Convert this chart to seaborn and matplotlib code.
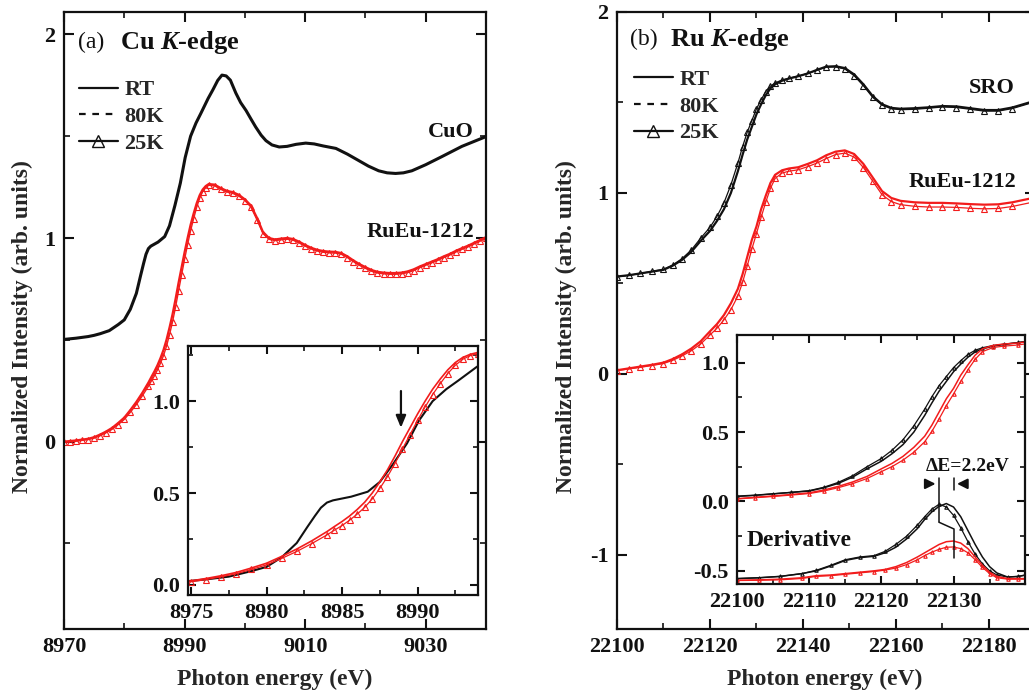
import numpy as np
import matplotlib
matplotlib.use("Agg")
import matplotlib.pyplot as plt
import seaborn as sns
from matplotlib.lines import Line2D
from matplotlib.ticker import MultipleLocator, FormatStrFormatter

# ---------------- data ----------------
# Panel (a): Cu K-edge
cuo_energy = [8970, 8972, 8974, 8975, 8976, 8977.5, 8979, 8980, 8981, 8982, 8982.7, 8983.2,
              8983.6, 8984.0, 8984.4, 8985.6, 8986.7, 8987.5, 8988.4, 8989.3, 8990.1, 8991.0,
              8991.9, 8992.7, 8993.9, 8994.7, 8995.5, 8996.2, 8996.9, 8997.6, 8998.5, 8999.3,
              9000.2, 9001.0, 9001.8, 9002.7, 9003.5, 9004.5, 9005.7, 9007.0, 9008.5, 9010.1,
              9011.5, 9013.0, 9015.1, 9017.0, 9018.9, 9020.5, 9022.2, 9023.6, 9025.0, 9026.3,
              9027.7, 9030.0, 9032.7, 9036.0, 9040.0]
cuo_rt = [0.002, 0.008, 0.016, 0.022, 0.030, 0.045, 0.075, 0.098, 0.150, 0.228, 0.315, 0.375,
          0.420, 0.448, 0.460, 0.480, 0.507, 0.560, 0.660, 0.770, 0.895, 1.000, 1.065, 1.112,
          1.185, 1.228, 1.274, 1.300, 1.296, 1.275, 1.212, 1.165, 1.126, 1.085, 1.045, 1.005,
          0.978, 0.957, 0.947, 0.950, 0.960, 0.966, 0.962, 0.952, 0.940, 0.912, 0.880, 0.853,
          0.830, 0.820, 0.817, 0.820, 0.830, 0.860, 0.900, 0.950, 0.998]

rueu_cu_energy = [8970, 8971, 8972, 8973, 8974, 8975, 8976, 8977, 8978, 8979, 8980, 8981, 8982,
                  8983, 8984,
                  8984.5, 8985, 8985.5, 8986, 8986.5, 8987, 8987.5, 8988, 8988.5, 8989, 8989.5,
                  8990, 8990.5, 8991, 8991.5, 8992, 8992.5, 8993, 8993.5, 8994,
                  8995, 8996, 8997, 8998, 8999, 9000, 9001, 9002, 9003, 9004, 9005, 9006, 9007,
                  9008, 9009, 9010, 9011, 9012, 9013, 9014, 9015, 9016, 9017, 9018, 9019, 9020,
                  9021, 9022, 9023, 9024, 9025, 9026, 9027, 9028, 9029, 9030, 9031, 9032, 9033,
                  9034, 9035, 9036, 9037, 9038, 9039, 9040]
rueu_cu_rt = [0.000, 0.003, 0.006, 0.010, 0.014, 0.022, 0.035, 0.050, 0.068, 0.092, 0.118, 0.155,
              0.195, 0.240, 0.290,
              0.318, 0.345, 0.375, 0.410, 0.450, 0.500, 0.560, 0.625, 0.700, 0.780, 0.855, 0.930,
              1.000, 1.065, 1.120, 1.170, 1.210, 1.238, 1.255, 1.265,
              1.262, 1.245, 1.232, 1.225, 1.212, 1.190, 1.160, 1.100, 1.030, 1.000, 0.993, 0.997,
              1.000, 0.995, 0.982, 0.966, 0.952, 0.942, 0.936, 0.933, 0.932, 0.926, 0.910, 0.890,
              0.872, 0.857, 0.843, 0.834, 0.830, 0.828, 0.828, 0.830, 0.836, 0.846, 0.860, 0.872,
              0.884, 0.896, 0.910, 0.922, 0.937, 0.950, 0.962, 0.976, 0.990, 1.004]
rueu_cu_25k = [-0.004, -0.001, 0.002, 0.006, 0.010, 0.017, 0.029, 0.044, 0.061, 0.084, 0.109,
               0.144, 0.182, 0.225, 0.272,
               0.298, 0.323, 0.352, 0.385, 0.422, 0.468, 0.525, 0.588, 0.660, 0.740, 0.818, 0.895,
               0.968, 1.036, 1.095, 1.150, 1.195, 1.228, 1.248, 1.259,
               1.256, 1.239, 1.226, 1.219, 1.206, 1.184, 1.152, 1.090, 1.022, 0.994, 0.987, 0.991,
               0.994, 0.989, 0.976, 0.960, 0.946, 0.936, 0.930, 0.927, 0.926, 0.920, 0.904, 0.884,
               0.866, 0.851, 0.837, 0.828, 0.824, 0.822, 0.822, 0.824, 0.830, 0.840, 0.854, 0.866,
               0.878, 0.890, 0.904, 0.916, 0.931, 0.944, 0.956, 0.970, 0.984, 0.998]

# Panel (b): Ru K-edge
ru_energy = [22100, 22102.5, 22105, 22107.5, 22110, 22112, 22114, 22116, 22118, 22120, 22121.5,
             22123, 22124.5, 22126, 22127, 22128, 22129, 22130, 22131, 22132, 22133, 22134,
             22135.5, 22137, 22139, 22141, 22143, 22145, 22147, 22149, 22151, 22153, 22155,
             22157, 22159, 22161, 22164, 22167, 22170, 22173, 22176, 22179, 22182, 22185, 22190]
sro_rt = [0.038, 0.045, 0.055, 0.065, 0.075, 0.098, 0.130, 0.175, 0.235, 0.290, 0.345, 0.410,
          0.500, 0.620, 0.710, 0.795, 0.865, 0.935, 0.990, 1.040, 1.078, 1.100, 1.120, 1.132,
          1.145, 1.160, 1.180, 1.198, 1.200, 1.190, 1.155, 1.100, 1.035, 0.990, 0.970, 0.965,
          0.968, 0.973, 0.980, 0.978, 0.968, 0.958, 0.958, 0.972, 1.010]
sro_25k = [0.036, 0.044, 0.055, 0.066, 0.078, 0.102, 0.137, 0.185, 0.250, 0.310, 0.370, 0.445,
           0.545, 0.665, 0.755, 0.835, 0.900, 0.965, 1.015, 1.060, 1.090, 1.108, 1.124, 1.134,
           1.146, 1.160, 1.178, 1.195, 1.196, 1.185, 1.148, 1.092, 1.028, 0.985, 0.965, 0.960,
           0.962, 0.968, 0.975, 0.972, 0.962, 0.952, 0.952, 0.966, 1.004]
rueu_ru_rt = [0.020, 0.030, 0.040, 0.050, 0.062, 0.082, 0.108, 0.140, 0.180, 0.235, 0.275, 0.325,
              0.390, 0.470, 0.550, 0.645, 0.740, 0.815, 0.910, 0.985, 1.055, 1.100, 1.125, 1.135,
              1.142, 1.160, 1.180, 1.208, 1.228, 1.235, 1.215, 1.160, 1.085, 1.010, 0.972, 0.956,
              0.948, 0.945, 0.945, 0.942, 0.938, 0.935, 0.937, 0.948, 0.975]
rueu_ru_25k = [0.018, 0.027, 0.036, 0.046, 0.057, 0.075, 0.099, 0.128, 0.165, 0.215, 0.252, 0.298,
               0.355, 0.430, 0.505, 0.595, 0.690, 0.775, 0.865, 0.950, 1.025, 1.080, 1.110, 1.120,
               1.128, 1.145, 1.165, 1.190, 1.212, 1.220, 1.198, 1.140, 1.065, 0.990, 0.952, 0.935,
               0.926, 0.922, 0.922, 0.920, 0.915, 0.912, 0.914, 0.925, 0.952]

# Panel (b) inset: derivative curves
deriv_energy = [22100, 22103, 22106, 22109, 22111, 22113, 22115, 22117, 22119, 22120.5, 22122,
                22123.5, 22125, 22126, 22127, 22128, 22129, 22130, 22131, 22132, 22133, 22134,
                22135, 22136, 22137.5, 22139, 22140]
deriv_sro_25k = [-0.556, -0.550, -0.540, -0.520, -0.496, -0.460, -0.420, -0.400, -0.390, -0.360,
                 -0.310, -0.250, -0.170, -0.110, -0.055, -0.020, -0.040, -0.100, -0.190, -0.290,
                 -0.380, -0.450, -0.500, -0.530, -0.545, -0.540, -0.530]
deriv_sro_rt = [-0.556, -0.550, -0.540, -0.520, -0.500, -0.465, -0.425, -0.405, -0.395, -0.370,
                -0.330, -0.270, -0.195, -0.130, -0.075, -0.035, -0.015, -0.040, -0.110, -0.210,
                -0.310, -0.400, -0.470, -0.515, -0.545, -0.540, -0.530]
deriv_rueu_rt = [-0.568, -0.565, -0.560, -0.550, -0.535, -0.530, -0.520, -0.510, -0.500, -0.490,
                 -0.470, -0.440, -0.400, -0.370, -0.340, -0.310, -0.290, -0.285, -0.300, -0.340,
                 -0.400, -0.460, -0.510, -0.540, -0.556, -0.556, -0.556]
deriv_rueu_25k = [-0.570, -0.568, -0.565, -0.555, -0.540, -0.535, -0.525, -0.515, -0.505, -0.495,
                  -0.480, -0.455, -0.420, -0.390, -0.365, -0.345, -0.330, -0.328, -0.340, -0.370,
                  -0.420, -0.475, -0.520, -0.550, -0.560, -0.560, -0.560]

legend_labels = ["RT", "80K", "25K"]
OFFSET = 0.5  # vertical offset of reference compounds in main panels

RED = "#f21c1c"
BLACK = "#111111"

# ---------------- style ----------------
sns.set_theme(style="ticks")
plt.rcParams.update({
    "font.family": ["Liberation Serif", "DejaVu Serif"],
    "font.weight": "bold",
    "mathtext.fontset": "custom",
    "mathtext.rm": "Liberation Serif",
    "mathtext.bf": "Liberation Serif:bold",
    "mathtext.it": "Liberation Serif:italic",
    "mathtext.bfit": "Liberation Serif:italic:bold",
    "axes.unicode_minus": False,
    "axes.linewidth": 1.6,
    "axes.edgecolor": BLACK,
    "xtick.direction": "in",
    "ytick.direction": "in",
    "xtick.top": True,
    "ytick.right": True,
    "xtick.color": BLACK,
    "ytick.color": BLACK,
})

fig = plt.figure(figsize=(10.29, 6.96), dpi=100)
axA = fig.add_axes([0.0622, 0.0963, 0.4101, 0.8865])
axB = fig.add_axes([0.5996, 0.0963, 0.4067, 0.8865])
insA = fig.add_axes([0.1827, 0.1451, 0.2818, 0.3578])
insB = fig.add_axes([0.7162, 0.1609, 0.2799, 0.3578])


def draw(ax, x, y, color, lw, ls="-", marker=None, ms=4.5, mew=0.8):
    kw = dict(x=np.asarray(x, float), y=np.asarray(y, float), ax=ax, color=color,
              linewidth=lw, linestyle=ls, legend=False, sort=False, estimator=None)
    if marker is not None:
        kw.update(marker=marker, markersize=ms, markerfacecolor="none",
                  markeredgecolor=color, markeredgewidth=mew)
    sns.lineplot(**kw)


def style_axes(ax, major_x, minor_x, major_y, minor_y, lsize, fmt=None, big=True, xoff=0):
    ax.xaxis.set_major_locator(MultipleLocator(major_x, offset=xoff))
    ax.xaxis.set_minor_locator(MultipleLocator(minor_x))
    ax.yaxis.set_major_locator(MultipleLocator(major_y))
    ax.yaxis.set_minor_locator(MultipleLocator(minor_y))
    if fmt:
        ax.yaxis.set_major_formatter(FormatStrFormatter(fmt))
    L = 7 if big else 6
    ax.tick_params(which="major", length=L, width=1.5, labelsize=lsize, pad=6,
                   top=True, right=True)
    ax.tick_params(which="minor", length=L * 0.6, width=1.2, top=True, right=True)
    for lab in ax.get_xticklabels() + ax.get_yticklabels():
        lab.set_fontweight("bold")
    ax.set_xlabel("")
    ax.set_ylabel("")
    for s in ax.spines.values():
        s.set_linewidth(1.6)


# ---------------- panel (a) ----------------
draw(axA, cuo_energy, np.asarray(cuo_rt) + OFFSET, BLACK, 2.2)
draw(axA, rueu_cu_energy, rueu_cu_rt, RED, 1.6)
draw(axA, rueu_cu_energy, rueu_cu_25k, RED, 1.0, marker="^", ms=5)
axA.set_xlim(8970, 9040)
axA.set_ylim(-0.92, 2.11)
style_axes(axA, 20, 10, 1, 0.5, 16, xoff=10)
axA.set_xlabel("Photon energy (eV)", fontsize=17, fontweight="bold")
axA.set_ylabel("Normalized Intensity (arb. units)", fontsize=17, fontweight="bold")
axA.xaxis.set_label_coords(0.5, -0.064)
axA.yaxis.set_label_coords(-0.074, 0.49)
axA.text(0.033, 0.951, "(a)", transform=axA.transAxes, fontsize=17, fontweight="normal",
         va="center", ha="left", color=BLACK)
axA.text(0.133, 0.951, r"Cu $\mathbfit{K}$-edge", transform=axA.transAxes, fontsize=19,
         fontweight="bold", va="center", ha="left", color=BLACK)
axA.text(9038.0, 1.52, "CuO", fontsize=16, fontweight="bold", ha="right", va="center", color=BLACK)
axA.text(9038.0, 1.03, "RuEu-1212", fontsize=16, fontweight="bold", ha="right", va="center",
         color=BLACK)

handles = [Line2D([], [], color=BLACK, lw=1.6, ls="-"),
           Line2D([], [], color=BLACK, lw=1.6, ls=(0, (3, 3))),
           Line2D([], [], color=BLACK, lw=1.6, ls="-", marker="^", markerfacecolor="none",
                  markersize=8, markeredgewidth=1.0)]
for ax, anchor in ((axA, (0.035, 0.890)), (axB, (0.040, 0.907))):
    ax.legend(handles, legend_labels, loc="upper left", bbox_to_anchor=anchor,
              frameon=False, handlelength=1.75, handletextpad=0.3,
              labelspacing=0.28, borderpad=0, borderaxespad=0, numpoints=1,
              prop={"weight": "bold", "size": 16})

# inset (a)
insA.set_facecolor("white")
draw(insA, cuo_energy, cuo_rt, BLACK, 1.5)
draw(insA, rueu_cu_energy, rueu_cu_rt, RED, 1.2)
draw(insA, rueu_cu_energy, rueu_cu_25k, RED, 0.9, marker="^", ms=4)
insA.set_xlim(8974.8, 8994)
insA.set_ylim(-0.055, 1.30)
style_axes(insA, 5, 2.5, 0.5, 0.25, 16, fmt="%.1f", big=False)
insA.annotate("", xy=(8988.9, 0.84), xytext=(8988.9, 1.07),
              arrowprops=dict(arrowstyle="-|>,head_length=0.6,head_width=0.25",
                              color=BLACK, lw=1.6))

# ---------------- panel (b) ----------------
draw(axB, ru_energy, np.asarray(sro_rt) + OFFSET, BLACK, 1.6)
draw(axB, ru_energy, np.asarray(sro_25k) + OFFSET, BLACK, 0.9, marker="^", ms=4.5)
draw(axB, ru_energy, rueu_ru_rt, RED, 1.6)
draw(axB, ru_energy, rueu_ru_25k, RED, 0.9, marker="^", ms=4.5)
axB.set_xlim(22100, 22190)
axB.set_ylim(-1.41, 2.0)
style_axes(axB, 20, 10, 1, 0.5, 16)
axB.set_xlabel("Photon energy (eV)", fontsize=17, fontweight="bold")
axB.set_ylabel("Normalized Intensity (arb. units)", fontsize=17, fontweight="bold")
axB.xaxis.set_label_coords(0.497, -0.064)
axB.yaxis.set_label_coords(-0.096, 0.49)
axB.text(0.031, 0.956, "(b)", transform=axB.transAxes, fontsize=17, fontweight="normal",
         va="center", ha="left", color=BLACK)
axB.text(0.127, 0.956, r"Ru $\mathbfit{K}$-edge", transform=axB.transAxes, fontsize=19,
         fontweight="bold", va="center", ha="left", color=BLACK)
axB.text(22185.6, 1.58, "SRO", fontsize=16, fontweight="bold", ha="right", va="center", color=BLACK)
axB.text(22185.8, 1.06, "RuEu-1212", fontsize=16, fontweight="bold", ha="right", va="center",
         color=BLACK)

# inset (b)
insB.set_facecolor("white")
draw(insB, ru_energy, sro_rt, BLACK, 1.1)
draw(insB, ru_energy, sro_25k, BLACK, 0.9, marker="^", ms=2.5)
draw(insB, ru_energy, rueu_ru_rt, RED, 1.1)
draw(insB, ru_energy, rueu_ru_25k, RED, 0.9, marker="^", ms=2.5)
draw(insB, deriv_energy, deriv_sro_rt, BLACK, 1.1)
draw(insB, deriv_energy, deriv_sro_25k, BLACK, 0.9, marker="^", ms=2.5)
draw(insB, deriv_energy, deriv_rueu_rt, RED, 1.1)
draw(insB, deriv_energy, deriv_rueu_25k, RED, 0.9, marker="^", ms=2.5)
insB.set_xlim(22100, 22139.9)
insB.set_ylim(-0.595, 1.2)
style_axes(insB, 10, 5, 0.5, 0.25, 16, fmt="%.1f", big=False)

pk_black = deriv_energy[int(np.argmax(deriv_sro_25k))]
pk_red = deriv_energy[int(np.argmax(deriv_rueu_rt))]
lk = dict(color=BLACK, lw=1.1)
insB.plot([pk_black, pk_black], [0.17, -0.15], **lk)
insB.plot([pk_black, pk_red], [-0.15, -0.197], **lk)
insB.plot([pk_red, pk_red], [-0.197, -0.405], **lk)
insB.plot([pk_red, pk_red], [0.17, 0.085], **lk)
arr = dict(arrowstyle="-|>,head_length=0.5,head_width=0.25", color=BLACK, lw=1.5)
insB.annotate("", xy=(pk_black - 0.1, 0.127), xytext=(pk_black - 2.0, 0.127), arrowprops=arr)
insB.annotate("", xy=(pk_red + 0.1, 0.127), xytext=(pk_red + 2.0, 0.127), arrowprops=arr)
insB.text(22132.0, 0.25, "\u0394E=2.2eV", fontsize=14, fontweight="bold", ha="center",
          va="center", color=BLACK)
insB.text(22101.3, -0.28, "Derivative", fontsize=17, fontweight="bold", ha="left",
          va="center", color=BLACK)

fig.savefig("out.png", dpi=100)
